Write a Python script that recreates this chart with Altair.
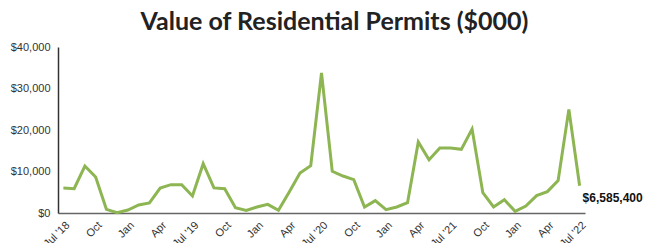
import json
import altair as alt
import pandas as pd

months = ["Jul '18", "Aug", "Sep", "Oct", "Nov", "Dec", "Jan", "Feb", "Mar", "Apr", "May", "Jun",
          "Jul '19", "Aug", "Sep", "Oct", "Nov", "Dec", "Jan", "Feb", "Mar", "Apr", "May", "Jun",
          "Jul '20", "Aug", "Sep", "Oct", "Nov", "Dec", "Jan", "Feb", "Mar", "Apr", "May", "Jun",
          "Jul '21", "Aug", "Sep", "Oct", "Nov", "Dec", "Jan", "Feb", "Mar", "Apr", "May", "Jun",
          "Jul '22"]
values = [6000, 5860, 11320, 8670, 880, 100, 720, 1930, 2410, 6020, 6830, 6830,
          4100, 11880, 6050, 5860, 1280, 640, 1450, 2090, 640, 5060, 9640, 11400,
          33730, 10040, 8910, 8030, 1450, 2970, 800, 1450, 2490, 17100, 12850, 15660,
          15660, 15340, 20240, 4900, 1450, 3210, 400, 1690, 4180, 5140, 7790, 24970,
          6585.4]
end_label = "$6,585,400"

df = pd.DataFrame({"idx": list(range(len(values))), "month": months, "value": values})
tick_idx = list(range(0, len(values), 3))
labels_js = json.dumps(months)

x_enc = alt.X("idx:Q",
              scale=alt.Scale(domain=[-0.5, len(values) - 0.5], nice=False, zero=False),
              axis=alt.Axis(values=tick_idx, tickCount=100, labelExpr=f"{labels_js}[datum.value]",
                            labelAngle=-45, labelOverlap=False, labelBound=False,
                            ticks=False, grid=False, title=None,
                            domainColor="#666666", domainWidth=1.5,
                            labelFont="Liberation Sans", labelFontSize=11,
                            labelColor="#333333", labelPadding=6))
y_enc = alt.Y("value:Q",
              scale=alt.Scale(domain=[0, 40000], nice=False),
              axis=alt.Axis(values=[0, 10000, 20000, 30000, 40000], format="$,.0f",
                            ticks=False, grid=False, title=None,
                            domainColor="#333333", domainWidth=1.5,
                            labelFont="Liberation Sans", labelFontSize=11,
                            labelColor="#333333", labelPadding=8))

line = alt.Chart(df).mark_line(color="#8db552", strokeWidth=3).encode(x=x_enc, y=y_enc)

last = df.tail(1).assign(label=end_label)
text = alt.Chart(last).mark_text(align="left", baseline="alphabetic", dx=3, dy=16,
                                 font="Liberation Sans", fontSize=12, fontWeight="bold",
                                 color="#111111").encode(x="idx:Q", y="value:Q", text="label:N")

chart = (line + text).properties(
    width=527, height=166,
    padding={"left": 50, "top": 39, "right": 58, "bottom": 30},
    autosize=alt.AutoSizeParams(type="none"),
    title=alt.TitleParams("Value of Residential Permits ($000)", font="Lato", fontSize=25,
                          fontWeight="bold", color="#222222", anchor="middle", offset=6, dx=13),
).configure_view(stroke=None)

chart.save("out.html", embed_options={"renderer": "svg", "actions": False})
